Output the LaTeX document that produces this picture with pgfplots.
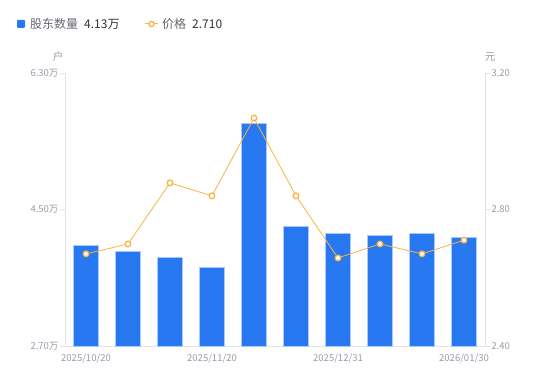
\documentclass[border=0pt]{standalone}
\usepackage{pgfplots}
\pgfplotsset{compat=1.18}
\usepackage{fontspec}
\setmainfont{Noto Sans CJK SC}
\definecolor{barblue}{HTML}{2878F2}
\definecolor{baredge}{HTML}{A9C9F9}
\definecolor{lineor}{HTML}{F7B442}
\definecolor{tickgray}{HTML}{9A9AAA}
\definecolor{axgray}{HTML}{E2E2E8}
\definecolor{leggray}{HTML}{666670}
\definecolor{legdark}{HTML}{333333}
\pgfplotstableread{
x shareholders price
0 4.03 2.670
1 3.95 2.699
2 3.87 2.878
3 3.74 2.840
4 5.64 3.068
5 4.28 2.840
6 4.19 2.658
7 4.16 2.699
8 4.18 2.670
9 4.13 2.710
}\datatable
\begin{document}
\begin{tikzpicture}[x=1pt,y=1pt]
\useasboundingbox (0,0) rectangle (550,381);
\begin{axis}[
  at={(65pt,35pt)}, anchor=south west,
  width=420pt, height=273pt, scale only axis,
  xmin=-0.5, xmax=9.5, ymin=2.7, ymax=6.3,
  axis x line*=bottom, axis y line*=left,
  axis line style={draw=axgray, line width=0.8pt},
  xtick={0,3,6,9},
  xticklabels={2025/10/20,2025/11/20,2025/12/31,2026/01/30},
  ytick={2.7,4.5,6.3},
  yticklabels={2.70万,4.50万,6.30万},
  x tick style={draw=none},
  y tick style={draw=axgray, line width=0.8pt},
  tick align=outside, major tick length=5pt,
  ticklabel style={font=\fontsize{9.5}{11}\selectfont, text=tickgray},
  xticklabel style={yshift=1pt},
  yticklabel style={xshift=2pt},
  clip=false,
]
\addplot[ybar, bar width=25pt, fill=barblue, draw=baredge, line width=0.8pt]
  table[x=x, y=shareholders] {\datatable};
\end{axis}
\begin{axis}[
  at={(65pt,35pt)}, anchor=south west,
  width=420pt, height=273pt, scale only axis,
  xmin=-0.5, xmax=9.5, ymin=2.4, ymax=3.2,
  axis x line=none, axis y line*=right,
  axis line style={draw=axgray, line width=0.8pt},
  ytick={2.4,2.8,3.2},
  yticklabels={2.40,2.80,3.20},
  y tick style={draw=axgray, line width=0.8pt},
  tick align=outside, major tick length=5pt,
  ticklabel style={font=\fontsize{9.5}{11}\selectfont, text=tickgray},
  yticklabel style={xshift=-2pt},
  clip=false,
]
\addplot[lineor, line width=0.8pt, mark=*, mark size=2.8pt,
  mark options={fill=white, draw=lineor, line width=1.3pt}]
  table[x=x, y=price] {\datatable};
\end{axis}
% unit labels
\node[text=tickgray, font=\fontsize{10.5}{12}\selectfont] at (58,324) {户};
\node[text=tickgray, font=\fontsize{10.5}{12}\selectfont] at (490,324) {元};
% legend
\fill[barblue, rounded corners=1pt] (17,353) rectangle (25,361);
\node[anchor=west, inner sep=0pt, font=\fontsize{12}{14}\selectfont, text=leggray] at (30,357) {股东数量};
\node[anchor=west, inner sep=0pt, font=\fontsize{12}{14}\selectfont, text=legdark] at (84,357) {4.13万};
\draw[lineor, line width=1pt] (145,357) -- (158,357);
\filldraw[fill=white, draw=lineor, line width=1.3pt] (151.5,357) circle (2.6pt);
\node[anchor=west, inner sep=0pt, font=\fontsize{12}{14}\selectfont, text=leggray] at (162,357) {价格};
\node[anchor=west, inner sep=0pt, font=\fontsize{12}{14}\selectfont, text=legdark] at (192,357) {2.710};
\end{tikzpicture}
\end{document}
